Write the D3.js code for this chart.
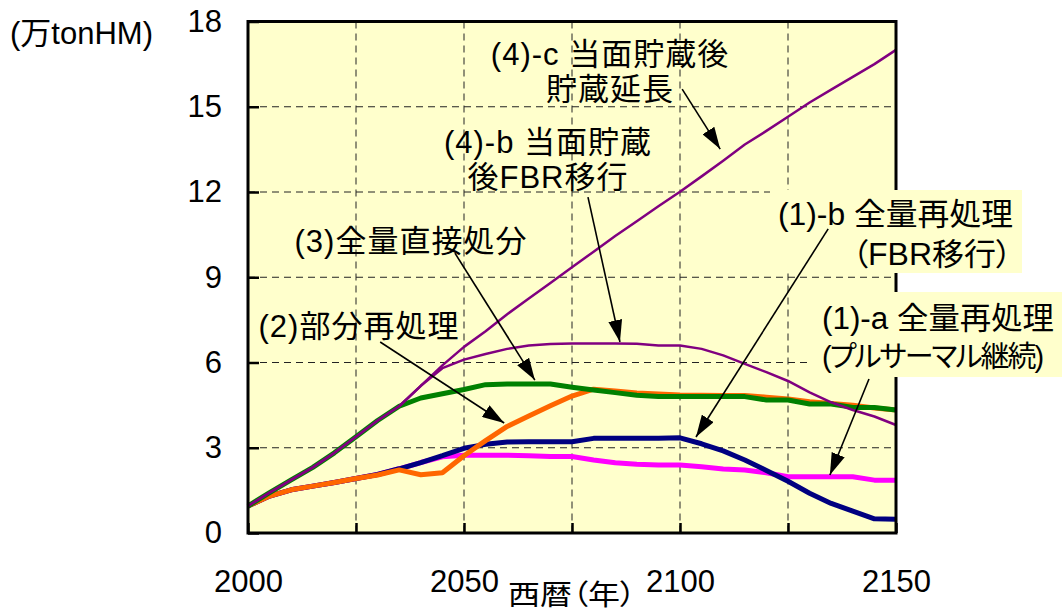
<!DOCTYPE html>
<html>
<head>
<meta charset="utf-8">
<script src="https://cdn.jsdelivr.net/npm/d3@7"></script>
<style>
  html, body { margin: 0; padding: 0; background: #ffffff; }
  svg { display: block; }
  text { font-family: "Liberation Sans", Arial, "Noto Sans CJK JP", sans-serif; fill: #000; }
  .lbl { font-size: 31px; letter-spacing: 1px; font-feature-settings: "palt"; }
  .lbl.fit { letter-spacing: 0; }
  .lbl.tight { font-size: 29px; letter-spacing: -2px; }
</style>
</head>
<body>
<svg id="chart" width="1062" height="612"></svg>
<script>
// Spent fuel accumulation by scenario (unit: 10,000 tonHM)
const years = [2000, 2005, 2010, 2015, 2020, 2025, 2030, 2035, 2040, 2045,
               2050, 2055, 2060, 2065, 2070, 2075, 2080, 2085, 2090, 2095,
               2100, 2105, 2110, 2115, 2120, 2125, 2130, 2135, 2140, 2145, 2150];

// (1)-a full reprocessing, pluthermal continued
const case1a = [0.95, 1.30, 1.52, 1.65, 1.78, 1.92, 2.06, 2.26, 2.48, 2.68,
                2.74, 2.74, 2.74, 2.72, 2.69, 2.69, 2.57, 2.47, 2.42, 2.39,
                2.39, 2.33, 2.25, 2.22, 2.12, 1.98, 1.98, 1.98, 1.98, 1.86, 1.86];
// (1)-b full reprocessing, FBR transition
const case1b = [0.95, 1.30, 1.52, 1.65, 1.78, 1.92, 2.06, 2.26, 2.48, 2.72,
                2.98, 3.12, 3.20, 3.21, 3.21, 3.21, 3.33, 3.33, 3.33, 3.33,
                3.35, 3.14, 2.89, 2.57, 2.20, 1.82, 1.40, 1.04, 0.77, 0.50, 0.48];
// (2) partial reprocessing
const case2 = [0.95, 1.30, 1.52, 1.65, 1.78, 1.92, 2.04, 2.22, 2.05, 2.12,
               2.72, 3.25, 3.75, 4.12, 4.48, 4.82, 5.06, 5.00, 4.93, 4.89,
               4.86, 4.85, 4.84, 4.84, 4.78, 4.72, 4.62, 4.56, 4.50, 4.40, 4.33];
// (3) full direct disposal
const case3 = [0.95, 1.42, 1.87, 2.31, 2.82, 3.39, 3.96, 4.46, 4.75, 4.90,
               5.05, 5.22, 5.24, 5.24, 5.24, 5.13, 5.03, 4.94, 4.85, 4.80,
               4.80, 4.80, 4.80, 4.80, 4.68, 4.68, 4.54, 4.54, 4.42, 4.42, 4.33];
// (4)-b interim storage, then FBR transition
const case4b = [0.95, 1.42, 1.87, 2.31, 2.82, 3.39, 3.96, 4.46, 5.18, 5.80,
                6.10, 6.30, 6.48, 6.60, 6.65, 6.67, 6.67, 6.67, 6.66, 6.60,
                6.60, 6.48, 6.25, 5.95, 5.66, 5.35, 4.95, 4.60, 4.33, 4.10, 3.80];
// (4)-c interim storage, then storage extended
const case4c = [0.95, 1.42, 1.87, 2.31, 2.82, 3.39, 3.96, 4.46, 5.18, 5.90,
                6.55, 7.10, 7.70, 8.25, 8.80, 9.35, 9.90, 10.45, 10.97, 11.50,
                12.01, 12.55, 13.10, 13.67, 14.15, 14.65, 15.15, 15.60, 16.05, 16.50, 17.00];

const yTicks = [0, 3, 6, 9, 12, 15, 18];
const xTicks = [2000, 2025, 2050, 2075, 2100, 2125, 2150];
const xTickLabels = ["2000", "", "2050", "", "2100", "", "2150"];

const svg = d3.select("#chart");
const plotLeft = 248, plotRight = 896, plotTop = 21.5, plotBottom = 533;

const x = d3.scaleLinear().domain([2000, 2150]).range([plotLeft, plotRight]);
const y = d3.scaleLinear().domain([0, 18]).range([plotBottom, plotTop]);

// plot background
svg.append("rect")
  .attr("x", plotLeft).attr("y", plotTop)
  .attr("width", plotRight - plotLeft).attr("height", plotBottom - plotTop)
  .attr("fill", "#FFFFCC");

// dashed grid
const grid = svg.append("g").attr("stroke", "#222").attr("stroke-width", 1)
  .attr("stroke-dasharray", "7,5").attr("fill", "none");
grid.selectAll(".gx").data(xTicks.slice(1, -1)).join("line").attr("class", "gx")
  .attr("x1", d => x(d)).attr("x2", d => x(d))
  .attr("y1", plotTop).attr("y2", plotBottom);
grid.selectAll(".gy").data(yTicks.slice(1, -1)).join("line").attr("class", "gy")
  .attr("x1", plotLeft).attr("x2", plotRight)
  .attr("y1", d => y(d)).attr("y2", d => y(d));

// series, drawn from back to front
const series = [
  { values: case1a, color: "#FF00FF", width: 5 },
  { values: case1b, color: "#000080", width: 5 },
  { values: case2,  color: "#FF6600", width: 5 },
  { values: case3,  color: "#008000", width: 5 },
  { values: case4b, color: "#800080", width: 2.5 },
  { values: case4c, color: "#800080", width: 2.5 }
];
const line = d3.line().x((d, i) => x(years[i])).y(d => y(d));
svg.append("g").selectAll("path").data(series).join("path")
  .attr("d", s => line(s.values))
  .attr("fill", "none")
  .attr("stroke", s => s.color)
  .attr("stroke-width", s => s.width)
  .attr("stroke-linejoin", "round");

// axes with inward ticks
const xAxis = svg.append("g").attr("transform", `translate(0,${plotBottom})`)
  .call(d3.axisBottom(x).tickValues(xTicks).tickSize(-10).tickPadding(37)
    .tickFormat((d, i) => xTickLabels[i]));
const yAxis = svg.append("g").attr("transform", `translate(${plotLeft},0)`)
  .call(d3.axisLeft(y).tickValues(yTicks).tickSize(-11).tickPadding(26)
    .tickFormat(d => String(d)));
[xAxis, yAxis].forEach(a => {
  a.select(".domain").remove();
  a.selectAll(".tick line").attr("stroke", "#000").attr("stroke-width", 2.5);
  a.selectAll(".tick text").style("font-size", "31px").attr("fill", "#000");
});

// frame
svg.append("rect")
  .attr("x", plotLeft).attr("y", plotTop)
  .attr("width", plotRight - plotLeft).attr("height", plotBottom - plotTop)
  .attr("fill", "none").attr("stroke", "#000").attr("stroke-width", 3);

// axis titles
svg.append("text").attr("x", 10).attr("y", 44).style("font-size", "31px").text("(万tonHM)");
svg.append("text").attr("x", 572).attr("y", 605).attr("text-anchor", "middle")
  .style("font-size", "28px").style("font-feature-settings", '"palt"')
  .attr("textLength", 128).attr("lengthAdjust", "spacingAndGlyphs")
  .text("西暦（年）");

// label boxes on the right side
svg.append("rect").attr("x", 770).attr("y", 190).attr("width", 252).attr("height", 83).attr("fill", "#FFFFCC");
svg.append("rect").attr("x", 812).attr("y", 292).attr("width", 250).attr("height", 85).attr("fill", "#FFFFCC");

// scenario labels (w: fitted text width where the line is tight)
const labels = [
  { t: "(4)-c 当面貯蔵後", x: 610, y: 55, a: "middle" },
  { t: "貯蔵延長", x: 610, y: 90, a: "middle" },
  { t: "(4)-b 当面貯蔵", x: 548, y: 142.5, a: "middle" },
  { t: "後FBR移行", x: 548, y: 178, a: "middle" },
  { t: "(3)全量直接処分", x: 411, y: 241.5, a: "middle" },
  { t: "(2)部分再処理", x: 359, y: 327, a: "middle" },
  { t: "(1)-b 全量再処理", x: 1013, y: 215, a: "end", w: 235 },
  { t: "（FBR移行）", x: 1012, y: 255, a: "end", w: 160 },
  { t: "(1)-a 全量再処理", x: 822, y: 319, a: "start", w: 232 },
  { t: "(プルサーマル継続)", x: 822, y: 357, a: "start", tight: true }
];
const lblText = svg.append("g").selectAll("text").data(labels).join("text")
  .attr("class", d => d.tight ? "lbl tight" : d.w ? "lbl fit" : "lbl")
  .attr("x", d => d.x).attr("y", d => d.y + 10)
  .attr("text-anchor", d => d.a)
  .text(d => d.t);
lblText.filter(d => d.w)
  .attr("textLength", d => d.w)
  .attr("lengthAdjust", "spacingAndGlyphs");

// leader arrows, given in chart units [year, value]
svg.append("defs").append("marker")
  .attr("id", "arrow").attr("markerUnits", "userSpaceOnUse")
  .attr("markerWidth", 22).attr("markerHeight", 14)
  .attr("refX", 22).attr("refY", 7).attr("orient", "auto")
  .append("path").attr("d", "M0,0 L22,7 L0,14 Z").attr("fill", "#000");

const arrows = [
  { from: [2100.5, 15.62], to: [2109.3, 13.51] },
  { from: [2078.7, 11.82], to: [2086.1, 6.72] },
  { from: [2047.9, 9.85],  to: [2066.4, 5.38] },
  { from: [2030.6, 6.72],  to: [2059.3, 3.87] },
  { from: [2134.3, 10.70], to: [2103.7, 3.38] },
  { from: [2143.75, 5.42], to: [2134.7, 2.04] }
];
svg.append("g").selectAll("line").data(arrows).join("line")
  .attr("x1", d => x(d.from[0])).attr("y1", d => y(d.from[1]))
  .attr("x2", d => x(d.to[0])).attr("y2", d => y(d.to[1]))
  .attr("stroke", "#000").attr("stroke-width", 1.6)
  .attr("marker-end", "url(#arrow)");
</script>
</body>
</html>
